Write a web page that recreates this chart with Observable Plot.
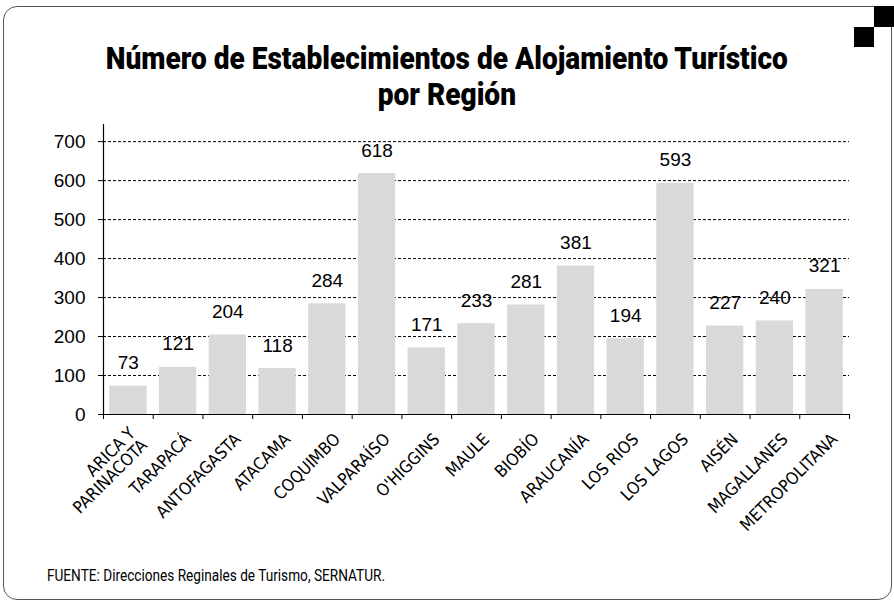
<!DOCTYPE html>
<html><head><meta charset="utf-8">
<script src="https://cdn.jsdelivr.net/npm/d3@7"></script>
<script src="https://cdn.jsdelivr.net/npm/@observablehq/plot@0.6"></script>
<style>
body{margin:0;background:#fff;}
#wrap{position:relative;width:894px;height:604px;overflow:hidden;font-family:"Liberation Sans Narrow","DejaVu Sans Condensed",sans-serif;color:#000;}
#frame{position:absolute;left:3px;top:6px;width:889px;height:594px;border:1px solid #555;border-radius:14px;box-sizing:border-box;}
.sq{position:absolute;background:#000;}
.tline{position:absolute;left:0;width:894px;text-align:center;font-family:Roboto,"Liberation Sans",sans-serif;font-weight:900;font-size:32px;line-height:36px;white-space:nowrap;}
.tline span{display:inline-block;transform-origin:50% 50%;}
#footer{position:absolute;left:47px;top:568px;font-family:Roboto,"Liberation Sans",sans-serif;font-size:16px;line-height:16px;white-space:nowrap;transform-origin:0 50%;}
#chart{position:absolute;left:0;top:0;}
</style></head>
<body>
<div id="wrap">
  <div id="frame"></div>
  <div class="sq" style="left:874px;top:6px;width:20px;height:21px"></div>
  <div class="sq" style="left:854px;top:27px;width:20px;height:20px"></div>
  <div class="tline" style="top:40px"><span id="t1">Número de Establecimientos de Alojamiento Turístico</span></div>
  <div class="tline" style="top:76px"><span id="t2">por Región</span></div>
  <div id="chart"></div>
  <div id="footer">FUENTE: Direcciones Reginales de Turismo, SERNATUR.</div>
</div>
<script>
const regions = ["ARICA Y\nPARINACOTA","TARAPACÁ","ANTOFAGASTA","ATACAMA","COQUIMBO","VALPARAÍSO","O'HIGGINS","MAULE","BIOBÍO","ARAUCANÍA","LOS RIOS","LOS LAGOS","AISÉN","MAGALLANES","METROPOLITANA"];
const values = [73,121,204,118,284,618,171,233,281,381,194,593,227,240,321];
const yTicks = [0,100,200,300,400,500,600,700];

const data = regions.map((region, i) => ({region, value: values[i], i}));
const pad = 0.125;
const numFont = "'Liberation Sans', Arial, sans-serif";
const narrow = "'Liberation Sans Narrow','DejaVu Sans Condensed',sans-serif";

const chart = Plot.plot({
  width: 894, height: 604,
  marginLeft: 103, marginRight: 45, marginTop: 124, marginBottom: 190,
  x: {type: "linear", domain: [0, regions.length]},
  y: {domain: [0, 744]},
  style: {background: "transparent", overflow: "visible"},
  marks: [
    Plot.ruleY(yTicks.filter(d => d > 0), {stroke: "#000", strokeWidth: 1, strokeDasharray: "3,2"}),
    Plot.rectY(data, {x1: d => d.i + pad, x2: d => d.i + 1 - pad, y1: 0, y2: "value", fill: "#d8d9db"}),
    Plot.ruleY([0], {stroke: "#000", strokeWidth: 1.2}),
    Plot.ruleX([0], {y1: 0, y2: 744, stroke: "#000", strokeWidth: 1.2}),
    Plot.axisY(yTicks, {tickSize: 5, tickPadding: 13, fontSize: 19, fontFamily: numFont, label: null, tickFormat: d => String(d)}),
    Plot.axisX(d3.range(regions.length + 1), {tickSize: 5, tickFormat: () => "", label: null}),
    Plot.text(data, {x: d => d.i + 0.5, y: "value", text: d => String(d.value), dy: -17, lineAnchor: "bottom", fontSize: 19, fontFamily: numFont, fill: "#000"}),
    Plot.text(data, {x: d => d.i + 0.5, y: 0, text: "region", rotate: -45, textAnchor: "end", lineAnchor: "middle", dx: 10, dy: 22, fontSize: 17, lineHeight: 1.0, fontFamily: narrow, fill: "#000"})
  ]
});
document.getElementById("chart").appendChild(chart);

// condense title and footer to the reference widths
const t1 = document.getElementById("t1"), t2 = document.getElementById("t2");
const k = 682 / t1.getBoundingClientRect().width;
t1.style.transform = `scaleX(${k})`;
t2.style.transform = `scaleX(${k})`;
const f = document.getElementById("footer");
f.style.transform = `scaleX(${338 / f.getBoundingClientRect().width})`;
</script>
</body></html>
